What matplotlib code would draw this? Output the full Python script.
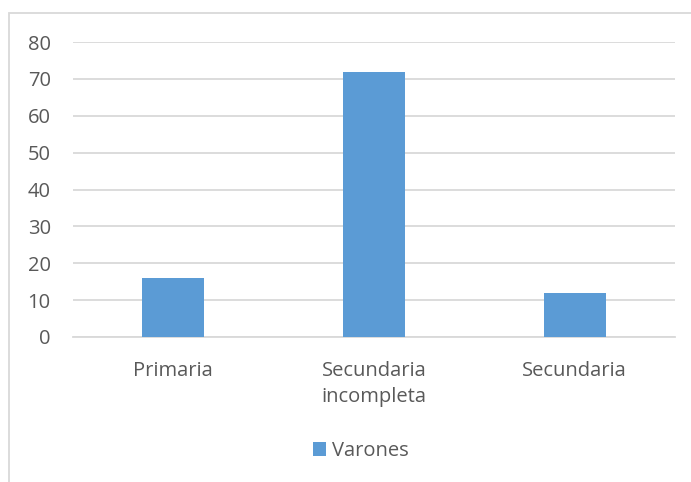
import matplotlib
matplotlib.use("Agg")
import matplotlib.pyplot as plt
from matplotlib.patches import Rectangle

categories = ["Primaria", "Secundaria\nincompleta", "Secundaria"]
varones = [16, 72, 12]
yticks = [0, 10, 20, 30, 40, 50, 60, 70, 80]
series_name = "Varones"

plt.rcParams['font.family'] = ['Open Sans', 'DejaVu Sans']
text_color = "#595959"
bar_color = "#5B9BD5"
grid_color = "#D9D9D9"
fs = 14.5

fig = plt.figure(figsize=(6.91, 4.82), dpi=100)
ax = fig.add_axes([73/691, 1-337/482, (675-73)/691, (337-42)/482])

x = list(range(len(categories)))
ax.bar(x, varones, width=0.31, color=bar_color, zorder=3, label=series_name)
ax.set_xlim(-0.5, len(categories)-0.5)
ax.set_ylim(0, 80)
ax.set_yticks(yticks)
ax.set_xticks(x)
ax.set_xticklabels(categories, fontsize=fs, color=text_color, linespacing=1.4)
ax.tick_params(axis='y', labelsize=fs, labelcolor=text_color, length=0, pad=16)
ax.tick_params(axis='x', length=0, pad=17)
ax.yaxis.grid(True, color=grid_color, linewidth=1.3, zorder=0)
ax.set_axisbelow(True)
for s in ["top", "right", "left"]:
    ax.spines[s].set_visible(False)
ax.spines["bottom"].set_color(grid_color)
ax.spines["bottom"].set_linewidth(1.3)

leg = fig.legend(loc="center", bbox_to_anchor=(361/691, 1-451/482), frameon=False,
                 fontsize=fs, handlelength=0.65, handleheight=0.65, handletextpad=0.3)
for t in leg.get_texts():
    t.set_color(text_color)

fig.patches.append(Rectangle((9/691, -0.1), 1.0, 1-13/482+0.1, transform=fig.transFigure,
                             fill=False, edgecolor="#D9D9D9", linewidth=1.3))

fig.savefig("out.png", dpi=100, facecolor="white")
